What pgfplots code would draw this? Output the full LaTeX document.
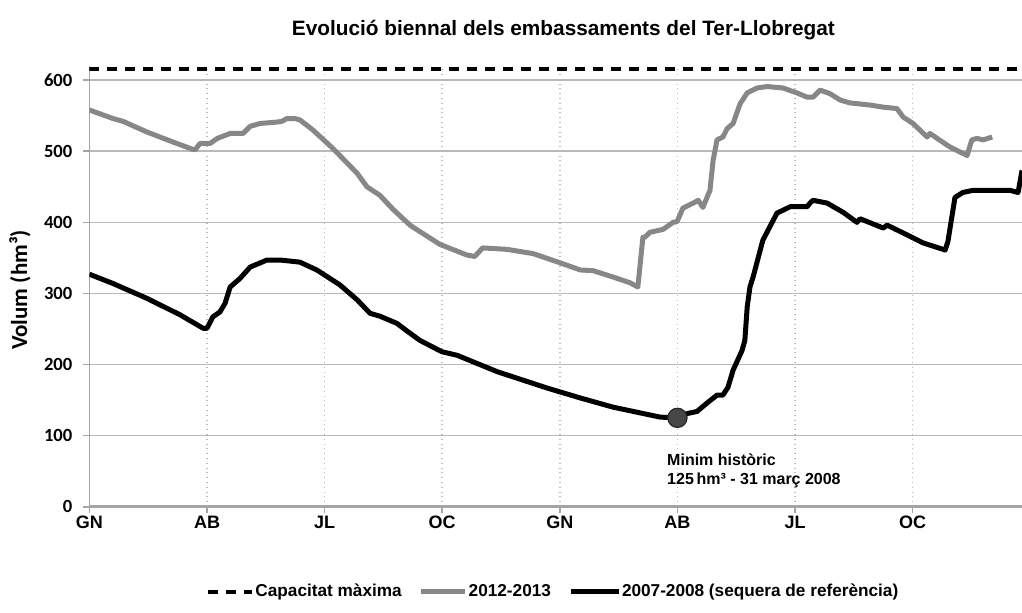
\documentclass[border=0pt]{standalone}
\usepackage{fontspec}
\setmainfont{Liberation Sans}
\newfontfamily\calfont{Carlito}
\usepackage{pgfplots}
\pgfplotsset{compat=1.18}
\definecolor{serieg}{RGB}{135,135,135}
\definecolor{gridc}{RGB}{185,185,185}
\definecolor{axisc}{RGB}{165,165,165}
\pgfplotsset{
  legdash/.style={legend image code/.code={\draw[##1] (0pt,0pt) -- (22pt,0pt);}},
  leggray/.style={legend image code/.code={\draw[##1] (0pt,0pt) -- (22pt,0pt);}},
  legblack/.style={legend image code/.code={\draw[##1] (0pt,0pt) -- (24pt,0pt);}},
}
\begin{document}
\begin{tikzpicture}
\begin{axis}[
  at={(0pt,0pt)}, anchor=origin,
  scale only axis, width=466.3pt, height=220.4pt,
  xmin=0, xmax=23.79, ymin=0, ymax=620,
  axis lines=left,
  x axis line style={-, axisc, line width=1.6pt},
  y axis line style={-, axisc, line width=0.9pt},
  xtick={0,3,6,9,12,15,18,21},
  xticklabels={GN,AB,JL,OC,GN,AB,JL,OC},
  ytick={0,100,200,300,400,500,600},
  /pgf/number format/assume math mode=true,
  tick align=outside, major tick length=3pt,
  tick style={axisc, line width=0.8pt},
  xmajorgrids, ymajorgrids,
  x grid style={gridc, dotted, line width=0.8pt},
  y grid style={gridc, line width=0.8pt},
  xticklabel style={font=\bfseries\fontsize{9}{10}\selectfont, yshift=2pt},
  yticklabel style={font=\calfont\bfseries\fontsize{9.3}{10}\selectfont, xshift=-2pt},
  clip=true,
  legend style={at={(0.497,-0.1935)}, anchor=center, draw=none, fill=none,
    legend columns=3, font=\bfseries\fontsize{8.6}{10}\selectfont,
    /tikz/every even column/.append style={column sep=8pt},
    /tikz/every odd column/.append style={column sep=0pt},
    nodes={inner sep=0.5pt, text height=0.72em, text depth=0.22em}},
  legend cell align=left,
]
\addplot[black, line width=2pt, dash pattern=on 5pt off 4pt, legdash]
  coordinates {(0,615) (23.79,615)};
\addlegendentry{Capacitat màxima}
\addplot[serieg, line width=2.5pt, line join=round, leggray]
  coordinates {
(0.00,558) (0.60,546) (0.86,542) (1.47,527) (2.13,513) (2.62,503) (2.70,502)
(2.82,511) (3.08,511) (3.26,518) (3.59,525) (3.92,525) (4.10,535) (4.35,539)
(4.78,541) (4.91,542) (5.04,546) (5.24,546) (5.37,544) (5.70,530) (6.21,504)
(6.83,469) (7.08,450) (7.41,438) (7.75,418) (8.18,396) (8.26,393) (8.94,369)
(9.63,354) (9.83,352) (10.03,364) (10.65,362) (11.32,356) (12.01,343) (12.52,333)
(12.85,332) (13.36,323) (13.79,315) (13.99,309) (14.12,379) (14.17,379) (14.30,386)
(14.63,390) (14.89,400) (14.99,401) (15.14,420) (15.40,427) (15.53,431) (15.65,421)
(15.83,445) (15.91,487) (16.01,516) (16.16,520) (16.27,532) (16.42,539) (16.60,567)
(16.78,582) (17.03,589) (17.29,591) (17.69,589) (18.05,582) (18.31,576) (18.46,576)
(18.64,586) (18.89,581) (19.15,572) (19.40,568) (19.91,565) (20.25,562) (20.60,560)
(20.76,548) (21.01,539) (21.37,520) (21.44,525) (21.95,506) (22.39,494) (22.51,516)
(22.64,518) (22.80,516) (23.03,520)
  };
\addlegendentry{2012-2013}
\addplot[black, line width=2.5pt, line join=round, legblack]
  coordinates {
(0.00,327) (0.60,314) (1.47,293) (2.31,270) (2.90,251) (3.00,251) (3.15,267)
(3.33,274) (3.46,286) (3.59,309) (3.84,321) (4.10,337) (4.53,347) (4.86,347)
(5.37,344) (5.80,333) (6.39,312) (6.83,291) (7.16,272) (7.41,268) (7.84,258)
(8.18,244) (8.43,234) (8.99,218) (9.38,213) (10.40,190) (11.67,167) (12.52,153)
(13.36,140) (14.56,126) (15.00,125) (15.25,131) (15.50,134) (15.76,146) (16.01,157)
(16.16,157) (16.29,168) (16.42,192) (16.65,220) (16.72,234) (16.78,281) (16.85,309)
(16.93,323) (17.18,375) (17.54,413) (17.88,422) (18.31,422) (18.38,427) (18.46,431)
(18.82,427) (19.23,414) (19.58,400) (19.66,405) (20.25,392) (20.35,396) (20.76,385)
(21.27,371) (21.83,361) (21.90,373) (22.08,435) (22.28,442) (22.54,445) (23.48,445)
(23.69,442) (23.79,473)
  };
\addlegendentry{2007-2008 (sequera de referència)}
\addplot[forget plot, only marks, mark=*, mark size=4.8pt,
  mark options={fill=black!72, draw=black!85, line width=0.6pt}]
  coordinates {(15,125)};
\node[anchor=west, align=left, font=\bfseries\fontsize{8}{9.5}\selectfont, inner sep=0pt]
  at (axis cs:14.73,51) {Minim històric\\125\,hm³ - 31 març 2008};
\end{axis}
\node[font=\bfseries\fontsize{10.4}{12}\selectfont] at (237pt,238.35pt)
  {Evolució biennal dels embassaments del Ter-Llobregat};
\node[rotate=90, font=\calfont\bfseries\fontsize{11.5}{13}\selectfont] at (-34.7pt,108.35pt)
  {Volum (hm³)};
\pgfresetboundingbox
\path[use as bounding box] (-44.7pt,-52.65pt) rectangle (466.3pt,253.35pt);
\end{tikzpicture}
\end{document}
